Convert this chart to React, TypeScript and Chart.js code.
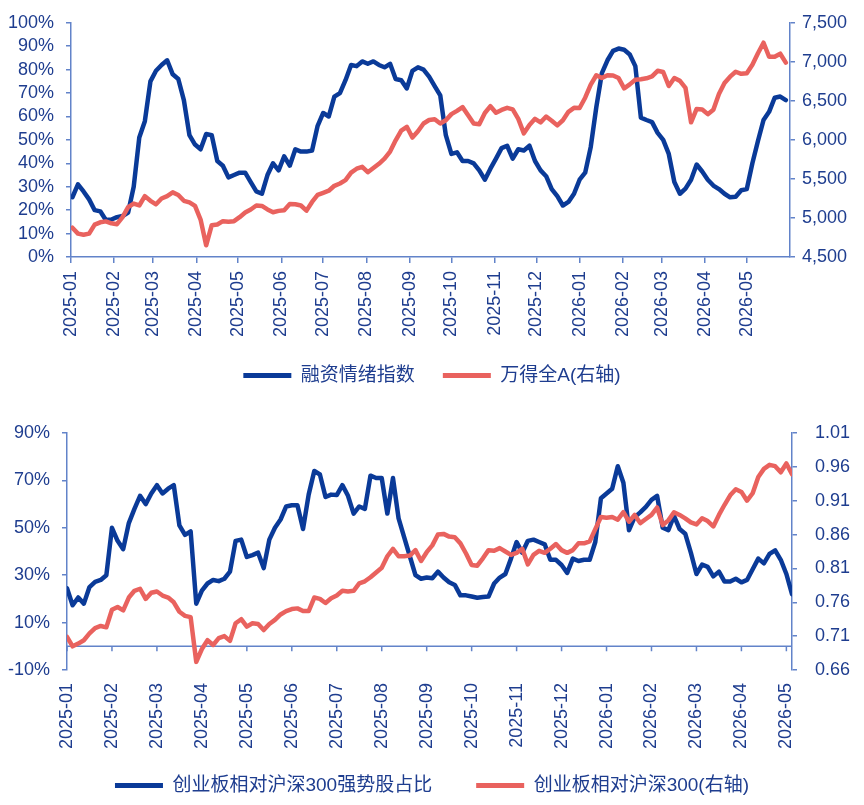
import React, { useEffect, useRef } from "react";
import { Chart, registerables } from "chart.js";

Chart.register(...registerables);

const FONT_FAMILY = "'Liberation Sans', Arial, 'Noto Sans CJK SC', sans-serif";
const TEXT_COLOR = "#1E3D8F";
const AXIS_COLOR = "#6283C9";
const NAVY = "#0A3A98";
const SALMON = "#E9625E";
const LINE_WIDTH = 4.5;

// ---------- top chart data ----------
const topMonths = [
  "2025-01", "2025-02", "2025-03", "2025-04", "2025-05", "2025-06", "2025-07", "2025-08",
  "2025-09", "2025-10", "2025-11", "2025-12", "2026-01", "2026-02", "2026-03", "2026-04", "2026-05",
];
const topFirstSample = "2025-01-02";
const topSampleStepDays = 4;
const topAxisEnd = "2026-06-01";

// 融资情绪指数 (%)
const sentimentIndex = [
  25.5, 31, 28, 24.6, 20, 19.5, 15.8, 16, 17, 17.5,
  19, 30, 51, 58, 75, 79.5, 82, 84, 78, 76,
  67, 52, 48, 46, 52.5, 52, 41, 39, 34, 35,
  36, 36, 32, 28, 27, 35, 40, 37, 43, 39,
  46, 45, 45, 45.5, 56, 61.5, 60, 68.5, 70, 75.5,
  82, 81.5, 83.5, 82.5, 83.5, 82, 81, 82.5, 76, 75.5,
  72, 79.5, 81, 80, 77, 73, 69, 52, 44, 44.7,
  41, 41, 40, 37, 33, 37.7, 42, 46.5, 47.5, 42,
  46, 45.5, 47.5, 41, 37, 34.5, 29, 26, 22, 23.5,
  27, 33, 36, 47, 64, 78.5, 84, 88, 89, 88.5,
  86.5, 81.5, 59.5, 58.5, 57.6, 53, 50, 44, 32, 27,
  29.2, 33, 39.5, 36.5, 33, 30.5, 29, 27, 25.5, 25.7,
  28.5, 29, 40, 49.5, 58.5, 62, 68, 68.5, 67,
];

// 万得全A (右轴)
const windAllA = [
  4875, 4800, 4785, 4800, 4914, 4944, 4956, 4932, 4920, 5010,
  5139, 5184, 5160, 5280, 5220, 5175, 5250, 5280, 5328, 5295,
  5220, 5199, 5154, 4980, 4650, 4908, 4917, 4959, 4953, 4959,
  5010, 5070, 5109, 5160, 5154, 5109, 5073, 5091, 5100, 5178,
  5175, 5160, 5094, 5205, 5295, 5322, 5349, 5412, 5442, 5484,
  5580, 5631, 5655, 5586, 5640, 5694, 5760, 5850, 5994, 6120,
  6168, 6030, 6111, 6210, 6255, 6264, 6210, 6252, 6330, 6372,
  6420, 6315, 6210, 6201, 6345, 6432, 6348, 6384, 6411, 6390,
  6270, 6084, 6192, 6270, 6225, 6300, 6246, 6186, 6252, 6360,
  6411, 6408, 6540, 6708, 6828, 6792, 6828, 6825, 6792, 6660,
  6711, 6771, 6777, 6789, 6813, 6885, 6870, 6690, 6792, 6756,
  6666, 6225, 6396, 6390, 6330, 6387, 6588, 6729, 6810, 6873,
  6846, 6855, 6963, 7110, 7245, 7065, 7065, 7104, 6990,
];

const topPctTicks = [0, 10, 20, 30, 40, 50, 60, 70, 80, 90, 100];
const topIndexTicks = [4500, 5000, 5500, 6000, 6500, 7000, 7500];

// ---------- bottom chart data ----------
const bottomMonths = [
  "2025-01", "2025-02", "2025-03", "2025-04", "2025-05", "2025-06", "2025-07", "2025-08",
  "2025-09", "2025-10", "2025-11", "2025-12", "2026-01", "2026-02", "2026-03", "2026-04", "2026-05",
];
const bottomSamplesPerMonth = 8;

// 创业板相对沪深300强势股占比 (%)
const strongShare = [
  24.5, 17.3, 20.6, 18, 25, 27.2, 28, 30, 50, 44.5,
  41, 52, 58, 63.5, 60, 64.5, 68, 64.5, 66.5, 68,
  51, 47, 48.5, 18, 23.5, 26.5, 28, 27.5, 28.5, 31.5,
  44.5, 45, 37.7, 38.5, 39.5, 33, 45, 50, 53.5, 59,
  59.5, 59.5, 49.5, 64, 74, 72.5, 63, 64, 63.8, 68,
  63.5, 56, 59, 58, 72, 71, 71, 56, 71, 54,
  46, 38, 30, 28.5, 29, 28.7, 31.5, 29, 27, 25.9,
  21.5, 21.5, 21, 20.5, 20.8, 21, 26.5, 29, 30.5, 37,
  44, 39.5, 44.5, 45, 44, 43, 36.5, 36.5, 34.3, 31,
  37, 36, 36.5, 36.5, 44, 62.5, 64.5, 66.5, 76, 69,
  49, 54.5, 56.5, 58.8, 61.8, 63.5, 50, 49, 55, 49.5,
  47.5, 39.5, 30.5, 34.5, 33.5, 29.5, 31.5, 27.3, 27.3, 28.5,
  27, 28, 32.5, 37, 35, 39, 40.5, 36.5, 30.5, 22,
];

// 创业板相对沪深300 (右轴)
const relativeStrength = [
  0.709, 0.695, 0.699, 0.704, 0.714, 0.722, 0.725, 0.723, 0.749, 0.753,
  0.748, 0.767, 0.777, 0.780, 0.765, 0.774, 0.776, 0.770, 0.767, 0.760,
  0.746, 0.740, 0.738, 0.672, 0.691, 0.704, 0.697, 0.707, 0.710, 0.703,
  0.729, 0.735, 0.724, 0.729, 0.728, 0.719, 0.728, 0.734, 0.742, 0.747,
  0.750, 0.751, 0.747, 0.747, 0.767, 0.765, 0.759, 0.766, 0.770, 0.777,
  0.776, 0.777, 0.788, 0.791, 0.797, 0.804, 0.811, 0.828, 0.839, 0.828,
  0.828, 0.829, 0.837, 0.821, 0.834, 0.844, 0.860, 0.861, 0.857, 0.856,
  0.847, 0.832, 0.815, 0.814, 0.825, 0.837, 0.836, 0.840, 0.835, 0.830,
  0.833, 0.839, 0.816, 0.830, 0.836, 0.833, 0.839, 0.846, 0.837, 0.833,
  0.837, 0.847, 0.847, 0.850, 0.868, 0.886, 0.885, 0.886, 0.882, 0.893,
  0.879, 0.889, 0.877, 0.883, 0.889, 0.900, 0.874, 0.881, 0.893, 0.889,
  0.884, 0.878, 0.875, 0.884, 0.880, 0.872, 0.889, 0.904, 0.918, 0.927,
  0.923, 0.910, 0.921, 0.945, 0.957, 0.963, 0.961, 0.952, 0.965, 0.949,
];

const bottomPctTicks = [-10, 10, 30, 50, 70, 90];
const bottomRatioTicks = [0.66, 0.71, 0.76, 0.81, 0.86, 0.91, 0.96, 1.01];

// ---------- helpers ----------
const DAY_MS = 86400000;
const EPOCH = Date.UTC(2025, 0, 1);
function dayOffset(s: string): number {
  const [y, m, d] = s.split("-").map(Number);
  return (Date.UTC(y, m - 1, d || 1) - EPOCH) / DAY_MS;
}

const tickFont = { family: FONT_FAMILY, size: 18 };
const legendFont = { family: FONT_FAMILY, size: 19 };

function legendOptions(padding: number) {
  return {
    display: true,
    position: "bottom" as const,
    labels: {
      boxWidth: 48,
      boxHeight: 5,
      padding,
      color: TEXT_COLOR,
      font: legendFont,
      sort: (a: any, b: any) => a.datasetIndex - b.datasetIndex,
      generateLabels: (chart: any) =>
        (Chart.defaults.plugins.legend.labels.generateLabels as any)(chart).map((l: any) => ({
          ...l,
          lineWidth: 0,
        })),
    },
  };
}

function yAxis(position: "left" | "right", min: number, max: number, ticks: number[], fmt: (v: number) => string, width: number, padding: number) {
  return {
    type: "linear" as const,
    position,
    min,
    max,
    afterBuildTicks: (scale: any) => {
      scale.ticks = ticks.map((v) => ({ value: v }));
    },
    afterFit: (scale: any) => {
      scale.width = width;
    },
    grid: {
      display: true,
      drawOnChartArea: false,
      drawTicks: true,
      tickLength: 5,
      color: AXIS_COLOR,
      lineWidth: 1.5,
    },
    border: { display: true, color: AXIS_COLOR, width: 1.5 },
    ticks: {
      color: TEXT_COLOR,
      font: tickFont,
      padding,
      autoSkip: false,
      callback: (v: any) => fmt(Number(v)),
    },
  };
}

// Let the rotated month labels run past the x scale box instead of being clipped.
const unclipXLabelsPlugin = {
  id: "unclipXLabels",
  afterLayout(chart: any) {
    const xs = chart.scales.x;
    if (xs) xs.bottom = chart.height;
  },
};

function makeTopConfig(): any {
  const start = dayOffset(topFirstSample);
  const monthDays = topMonths.map((m) => dayOffset(m));
  const sentimentPts = sentimentIndex.map((v, i) => ({ x: start + i * topSampleStepDays, y: v }));
  const windPts = windAllA.map((v, i) => ({ x: start + i * topSampleStepDays, y: v }));
  return {
    type: "line",
    data: {
      datasets: [
        {
          label: "融资情绪指数",
          data: sentimentPts,
          yAxisID: "yL",
          borderColor: NAVY,
          backgroundColor: NAVY,
          borderWidth: LINE_WIDTH,
          pointRadius: 0,
          tension: 0,
          borderJoinStyle: "round",
          borderCapStyle: "round",
          order: 1,
        },
        {
          label: "万得全A(右轴)",
          data: windPts,
          yAxisID: "yR",
          borderColor: SALMON,
          backgroundColor: SALMON,
          borderWidth: LINE_WIDTH,
          pointRadius: 0,
          tension: 0,
          borderJoinStyle: "round",
          borderCapStyle: "round",
          order: 0,
        },
      ],
    },
    options: {
      responsive: false,
      animation: false,
      layout: { padding: { top: 19, bottom: 5, left: 0, right: 0 } },
      plugins: {
        legend: legendOptions(28),
        tooltip: { enabled: false },
        title: { display: false },
      },
      scales: {
        x: {
          type: "linear",
          min: 0,
          max: dayOffset(topAxisEnd),
          afterBuildTicks: (scale: any) => {
            scale.ticks = monthDays.map((v) => ({ value: v }));
          },
          afterFit: (scale: any) => {
            scale.height = 81;
          },
          grid: {
            display: true,
            drawOnChartArea: false,
            drawTicks: true,
            tickLength: 6,
            color: AXIS_COLOR,
            lineWidth: 1.5,
          },
          border: { display: true, color: AXIS_COLOR, width: 1.5 },
          ticks: {
            color: TEXT_COLOR,
            font: tickFont,
            padding: 8,
            autoSkip: false,
            minRotation: 90,
            maxRotation: 90,
            callback: (_v: any, i: number) => topMonths[i],
          },
        },
        yL: yAxis("left", 0, 100, topPctTicks, (v) => `${Math.round(v)}%`, 71, 12),
        yR: yAxis("right", 4500, 7500, topIndexTicks, (v) => v.toLocaleString("en-US"), 74, 7),
      },
    },
    plugins: [unclipXLabelsPlugin],
  };
}

const zeroAxisPlugin = {
  id: "zeroAxis",
  beforeDatasetsDraw(chart: any) {
    const xs = chart.scales.x;
    const ys = chart.scales.yL;
    const ctx = chart.ctx;
    const y0 = ys.getPixelForValue(0);
    ctx.save();
    ctx.strokeStyle = AXIS_COLOR;
    ctx.lineWidth = 1.5;
    ctx.beginPath();
    ctx.moveTo(xs.left, y0);
    ctx.lineTo(xs.right, y0);
    xs.ticks.forEach((t: any) => {
      const px = xs.getPixelForValue(t.value);
      ctx.moveTo(px, y0);
      ctx.lineTo(px, y0 + 5);
    });
    ctx.stroke();
    ctx.restore();
  },
};

function makeBottomConfig(): any {
  const sharePts = strongShare.map((v, j) => ({ x: j / bottomSamplesPerMonth, y: v }));
  const relPts = relativeStrength.map((v, j) => ({ x: j / bottomSamplesPerMonth, y: v }));
  return {
    type: "line",
    data: {
      datasets: [
        {
          label: "创业板相对沪深300强势股占比",
          data: sharePts,
          yAxisID: "yL",
          borderColor: NAVY,
          backgroundColor: NAVY,
          borderWidth: LINE_WIDTH,
          pointRadius: 0,
          tension: 0,
          borderJoinStyle: "round",
          borderCapStyle: "round",
          order: 1,
        },
        {
          label: "创业板相对沪深300(右轴)",
          data: relPts,
          yAxisID: "yR",
          borderColor: SALMON,
          backgroundColor: SALMON,
          borderWidth: LINE_WIDTH,
          pointRadius: 0,
          tension: 0,
          borderJoinStyle: "round",
          borderCapStyle: "round",
          order: 0,
        },
      ],
    },
    options: {
      responsive: false,
      animation: false,
      layout: { padding: { top: 33, bottom: 0, left: 0, right: 0 } },
      plugins: {
        legend: legendOptions(44),
        tooltip: { enabled: false },
        title: { display: false },
      },
      scales: {
        x: {
          type: "linear",
          min: 0,
          max: (strongShare.length - 1) / bottomSamplesPerMonth,
          afterBuildTicks: (scale: any) => {
            scale.ticks = bottomMonths.map((_m, i) => ({ value: i }));
          },
          afterFit: (scale: any) => {
            scale.height = 62;
          },
          grid: { display: false, drawTicks: false, drawOnChartArea: false },
          border: { display: false },
          ticks: {
            color: TEXT_COLOR,
            font: tickFont,
            padding: 13,
            autoSkip: false,
            minRotation: 90,
            maxRotation: 90,
            callback: (_v: any, i: number) => bottomMonths[i],
          },
        },
        yL: yAxis("left", -10, 90, bottomPctTicks, (v) => `${Math.round(v)}%`, 67, 12),
        yR: yAxis("right", 0.66, 1.01, bottomRatioTicks, (v) => v.toFixed(2), 72, 18),
      },
    },
    plugins: [zeroAxisPlugin, unclipXLabelsPlugin],
  };
}

function ChartBox({ makeConfig, top, height }: { makeConfig: () => any; top: number; height: number }) {
  const ref = useRef<HTMLCanvasElement>(null);
  useEffect(() => {
    if (!ref.current) return;
    const chart = new Chart(ref.current, makeConfig());
    return () => chart.destroy();
  }, [makeConfig]);
  return (
    <div style={{ position: "absolute", left: 0, top, width: 864, height }}>
      <canvas ref={ref} width={864} height={height} style={{ display: "block", width: 864, height }} />
    </div>
  );
}

export default function App() {
  return (
    <div style={{ position: "fixed", left: 0, top: 0, width: 864, height: 805, background: "#ffffff" }}>
      <ChartBox makeConfig={makeTopConfig} top={0} height={400} />
      <ChartBox makeConfig={makeBottomConfig} top={400} height={405} />
    </div>
  );
}
